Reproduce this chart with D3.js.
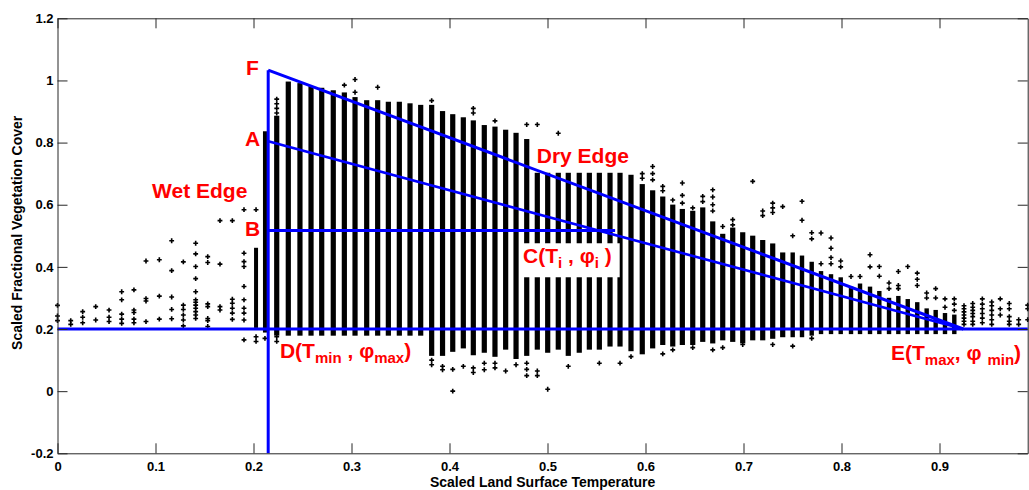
<!DOCTYPE html>
<html><head><meta charset="utf-8">
<script src="https://cdn.jsdelivr.net/npm/d3@7"></script>
<style>html,body{margin:0;padding:0;background:#fff;} svg{display:block;}</style>
</head><body>
<svg id="chart" width="1029" height="490"></svg>
<script>
// ---------------- data ----------------
const xTickValues = [0, 0.1, 0.2, 0.3, 0.4, 0.5, 0.6, 0.7, 0.8, 0.9];
const xTickLabels = ["0", "0.1", "0.2", "0.3", "0.4", "0.5", "0.6", "0.7", "0.8", "0.9"];
const yTickValues = [-0.2, 0, 0.2, 0.4, 0.6, 0.8, 1, 1.2];
const yTickLabels = ["-0.2", "0", "0.2", "0.4", "0.6", "0.8", "1", "1.2"];

// dense pixel columns (scaled LST value, upper / lower extent of the dense stack)
const colX = [0.2026, 0.2117, 0.2237, 0.2355, 0.2474, 0.2587, 0.2696, 0.2814, 0.2927, 0.3036,
  0.3155, 0.3267, 0.3376, 0.3488, 0.3597, 0.3706, 0.3818, 0.3929, 0.4033, 0.4141,
  0.4243, 0.4355, 0.4464, 0.4573, 0.4679, 0.4788, 0.4896, 0.5002, 0.5110, 0.5212,
  0.5324, 0.5427, 0.5529, 0.5638, 0.5740, 0.5852, 0.5967, 0.6073, 0.6176, 0.6278,
  0.6376, 0.6482, 0.6584, 0.6686, 0.6788, 0.6890, 0.6992, 0.7094, 0.7196, 0.7298,
  0.7400, 0.7502, 0.7597, 0.7696, 0.7791, 0.7893, 0.7992, 0.8097, 0.8189, 0.8291,
  0.8386, 0.8485, 0.8580, 0.8676, 0.8773, 0.8869, 0.8961, 0.9056, 0.9151];
const colHi = [0.455, 0.83, 0.88, 0.99, 0.985, 0.975, 0.97, 0.962, 0.955, 0.94,
  0.93, 0.93, 0.925, 0.925, 0.92, 0.915, 0.915, 0.895, 0.885, 0.875,
  0.865, 0.85, 0.845, 0.835, 0.825, 0.805, 0.79, 0.78, 0.77, 0.76,
  0.75, 0.74, 0.73, 0.72, 0.705, 0.69, 0.66, 0.64, 0.62, 0.594,
  0.58, 0.574, 0.585, 0.54, 0.50, 0.52, 0.505, 0.494, 0.48, 0.469,
  0.44, 0.44, 0.43, 0.41, 0.38, 0.37, 0.36, 0.33, 0.34, 0.33,
  0.316, 0.294, 0.30, 0.29, 0.28, 0.26, 0.255, 0.245, 0.24];
const colLo = [0.21, 0.195, 0.185, 0.185, 0.185, 0.185, 0.185, 0.185, 0.185, 0.185,
  0.185, 0.185, 0.185, 0.185, 0.185, 0.185, 0.12, 0.12, 0.133, 0.144,
  0.122, 0.13, 0.117, 0.14, 0.11, 0.12, 0.14, 0.13, 0.14, 0.12,
  0.13, 0.14, 0.14, 0.15, 0.15, 0.135, 0.125, 0.144, 0.155, 0.15,
  0.155, 0.155, 0.165, 0.16, 0.17, 0.165, 0.16, 0.17, 0.17, 0.175,
  0.18, 0.18, 0.18, 0.185, 0.19, 0.19, 0.19, 0.19, 0.19, 0.19,
  0.19, 0.19, 0.19, 0.19, 0.19, 0.19, 0.19, 0.19, 0.19];

// isolated pixels [scaled LST, scaled FVC]
const outliers = [
  [0, 0.276], [0, 0.242], [0, 0.227],
  [0.0135, 0.227], [0.0135, 0.215],
  [0.0257, 0.256], [0.0257, 0.238], [0.0257, 0.22],
  [0.039, 0.272], [0.039, 0.229],
  [0.0526, 0.261], [0.0526, 0.238], [0.0526, 0.224],
  [0.0655, 0.32], [0.0655, 0.294], [0.0655, 0.248], [0.0655, 0.232], [0.0655, 0.218],
  [0.078, 0.326], [0.078, 0.261], [0.078, 0.253], [0.078, 0.232], [0.078, 0.22],
  [0.0903, 0.419], [0.0903, 0.298], [0.0903, 0.29], [0.0903, 0.224],
  [0.1039, 0.423], [0.1039, 0.306], [0.1039, 0.232],
  [0.1165, 0.484], [0.1165, 0.388], [0.1165, 0.303], [0.1165, 0.263], [0.1165, 0.233],
  [0.1284, 0.416], [0.1284, 0.277], [0.1284, 0.263], [0.1284, 0.245], [0.1284, 0.229], [0.1284, 0.21],
  [0.141, 0.476], [0.141, 0.442], [0.141, 0.401], [0.141, 0.362], [0.141, 0.32], [0.141, 0.294],
  [0.141, 0.286], [0.141, 0.277], [0.141, 0.267], [0.141, 0.256], [0.141, 0.245], [0.141, 0.234],
  [0.1533, 0.433], [0.1533, 0.414], [0.1533, 0.281], [0.1533, 0.272], [0.1533, 0.234], [0.1533, 0.227], [0.1533, 0.208],
  [0.1658, 0.549], [0.1658, 0.409], [0.1658, 0.272], [0.1658, 0.261],
  [0.1784, 0.549], [0.1784, 0.296], [0.1784, 0.283], [0.1784, 0.267], [0.1784, 0.251], [0.1784, 0.231],
  [0.1903, 0.584], [0.1903, 0.444], [0.1903, 0.417], [0.1903, 0.401], [0.1903, 0.337], [0.1903, 0.294],
  [0.1903, 0.267], [0.1903, 0.251], [0.1903, 0.229], [0.1903, 0.165],
  [0.2026, 0.584], [0.2026, 0.175], [0.2026, 0.16],
  [0.2117, 0.17], [0.2237, 0.175], [0.2237, 0.16],
  [0.2237, 0.94], [0.2237, 0.925], [0.2237, 0.91], [0.2237, 0.895],
  [0.2927, 0.985], [0.3036, 1.003], [0.3036, 0.962], [0.3267, 0.978], [0.3818, 0.935],
  [0.4243, 0.91], [0.4243, 0.895], [0.4464, 0.87],
  [0.4788, 0.858], [0.4896, 0.858], [0.5110, 0.83],
  [0.5967, 0.70], [0.5967, 0.685],
  [0.6073, 0.723], [0.6073, 0.70], [0.6073, 0.68],
  [0.6176, 0.659], [0.6176, 0.645], [0.6278, 0.615],
  [0.6376, 0.67], [0.6376, 0.63], [0.6376, 0.605], [0.6482, 0.59],
  [0.6584, 0.627], [0.6584, 0.61],
  [0.6686, 0.648], [0.6686, 0.625], [0.6686, 0.60], [0.6686, 0.58],
  [0.6788, 0.53], [0.6890, 0.552], [0.6890, 0.535],
  [0.7094, 0.675], [0.7196, 0.58], [0.7196, 0.565],
  [0.7298, 0.605], [0.7298, 0.59], [0.7298, 0.575],
  [0.7400, 0.594], [0.7502, 0.50], [0.7597, 0.611], [0.7597, 0.55],
  [0.7696, 0.51], [0.7696, 0.49], [0.7791, 0.509], [0.7791, 0.41],
  [0.7893, 0.493], [0.7893, 0.46], [0.7893, 0.43], [0.7893, 0.41],
  [0.7992, 0.419], [0.7992, 0.40], [0.8097, 0.369], [0.8189, 0.369],
  [0.8291, 0.439], [0.8291, 0.40], [0.8386, 0.401], [0.8386, 0.37],
  [0.8485, 0.348], [0.8485, 0.33], [0.8580, 0.385], [0.8580, 0.34], [0.8580, 0.33],
  [0.8676, 0.401], [0.8773, 0.38], [0.8773, 0.36], [0.8773, 0.34],
  [0.8869, 0.316], [0.8869, 0.30], [0.8961, 0.33], [0.8961, 0.30],
  [0.9056, 0.297], [0.9056, 0.27], [0.9151, 0.297], [0.9151, 0.28], [0.9151, 0.26],
  [0.9250, 0.275], [0.9250, 0.265], [0.9250, 0.255], [0.9250, 0.245], [0.9250, 0.235], [0.9250, 0.225], [0.9250, 0.215],
  [0.9339, 0.282], [0.9339, 0.27], [0.9339, 0.26], [0.9339, 0.25], [0.9339, 0.24], [0.9339, 0.225], [0.9339, 0.215],
  [0.9437, 0.297], [0.9437, 0.28], [0.9437, 0.265], [0.9437, 0.25], [0.9437, 0.235], [0.9437, 0.22],
  [0.9533, 0.287], [0.9533, 0.275], [0.9533, 0.26], [0.9533, 0.245], [0.9533, 0.23], [0.9533, 0.215],
  [0.9620, 0.297], [0.9620, 0.265], [0.9620, 0.245],
  [0.9712, 0.282], [0.9712, 0.265], [0.9712, 0.24], [0.9712, 0.225], [0.9712, 0.215],
  [0.9808, 0.23], [0.9808, 0.215],
  [0.9900, 0.277], [0.9900, 0.265], [0.9900, 0.23],
  [0.3818, 0.10], [0.3818, 0.085], [0.3929, 0.08], [0.3929, 0.069],
  [0.4033, 0.07], [0.4033, 0.0], [0.4141, 0.08], [0.4243, 0.075], [0.4243, 0.06],
  [0.4355, 0.09], [0.4355, 0.069], [0.4464, 0.09], [0.4464, 0.075], [0.4573, 0.065],
  [0.4679, 0.085], [0.4788, 0.09], [0.4788, 0.07], [0.4788, 0.05], [0.4896, 0.065], [0.4896, 0.05],
  [0.5002, 0.006], [0.5212, 0.08], [0.5529, 0.09], [0.5740, 0.09], [0.5852, 0.111],
  [0.6176, 0.12], [0.6278, 0.133], [0.6482, 0.14], [0.6686, 0.133], [0.6788, 0.14],
  [0.6992, 0.15], [0.7298, 0.15], [0.7502, 0.145], [0.7696, 0.17]
];

// triangle key points
const pointF = [0.215, 1.033];
const pointA = [0.215, 0.804];
const pointB = [0.215, 0.517];
const pointBend = [0.569, 0.517];
const pointE = [0.9243, 0.2];
const axisBottomPoint = [0.215, -0.2];
const minLineStart = [0, 0.2];
const minLineEnd = [0.99, 0.2];

// annotation labels: position (data units, left / baseline) and text segments [text, isSubscript]
const labels = [
  {x: 0.1923, y: 1.019, box: false, parts: [["F", 0]]},
  {x: 0.1913, y: 0.788, box: false, parts: [["A", 0]]},
  {x: 0.1913, y: 0.498, box: false, parts: [["B", 0]]},
  {x: 0.0965, y: 0.6225, box: false, parts: [["Wet Edge", 0]]},
  {x: 0.489, y: 0.735, box: true, parts: [["Dry Edge", 0]]},
  {x: 0.475, y: 0.4116, box: true, parts: [["C(T", 0], ["i", 1], [" , φ", 0], ["i", 1], [" )", 0]]},
  {x: 0.227, y: 0.106, box: false, parts: [["D(T", 0], ["min", 1], [" , φ", 0], ["max", 1], [")", 0]]},
  {x: 0.8505, y: 0.1008, box: false, parts: [["E(T", 0], ["max", 1], [", φ ", 0], ["min", 1], [")", 0]]}
];
const xTitle = "Scaled Land Surface Temperature";
const yTitle = "Scaled Fractional Vegetation Cover";

// ---------------- drawing ----------------
const svg = d3.select("#chart");
const W = 1029, H = 490;
const x = d3.scaleLinear().domain([0, 0.99]).range([57.5, 1027.7]);
const y = d3.scaleLinear().domain([-0.2, 1.2]).range([453.3, 18.3]);
const FONT = "'Liberation Sans', Arial, Helvetica, sans-serif";

svg.append("rect").attr("width", W).attr("height", H).attr("fill", "#fff");

const gData = svg.append("g");
// dense stacks
gData.selectAll("rect.col").data(colX).join("rect")
  .attr("class", "col")
  .attr("x", (d) => x(d) - (d < 0.215 ? 2 : (d < 0.75 ? 2.6 : 2.2)))
  .attr("width", (d) => d < 0.215 ? 4 : (d < 0.75 ? 5.2 : 4.4))
  .attr("y", (d, i) => y(colHi[i]) - 2)
  .attr("height", (d, i) => y(colLo[i]) - y(colHi[i]) + 4)
  .attr("fill", "#000");

// isolated points as '+' markers
const plus = d3.symbol().type(d3.symbolCross).size(13);
gData.selectAll("path.pt").data(outliers).join("path")
  .attr("class", "pt")
  .attr("d", plus)
  .attr("transform", (d) => `translate(${x(d[0])},${y(d[1])})`)
  .attr("fill", "#000");

// labels (first create text, then white boxes behind selected ones)
const gBoxes = svg.append("g");
const gLines = svg.append("g");
const gLabels = svg.append("g");

labels.forEach((lb) => {
  const t = gLabels.append("text")
    .attr("x", x(lb.x)).attr("y", y(lb.y))
    .attr("fill", "#ff0000")
    .attr("font-family", FONT).attr("font-weight", "bold")
    .attr("font-size", 21);
  let prevSub = 0;
  lb.parts.forEach(([txt, sub]) => {
    const ts = t.append("tspan").text(txt).attr("font-size", sub ? 15 : 21);
    const dy = (sub ? 5 : 0) - (prevSub ? 5 : 0);
    if (dy !== 0) ts.attr("dy", dy);
    prevSub = sub;
  });
  if (lb.box) {
    const bb = t.node().getBBox();
    gBoxes.append("rect")
      .attr("x", bb.x - 3).attr("y", bb.y - 1)
      .attr("width", bb.width + 11).attr("height", bb.height + 7)
      .attr("fill", "#fff");
  }
});

// blue lines
const line = d3.line().x((d) => x(d[0])).y((d) => y(d[1]));
const segs = [
  {p: [minLineStart, minLineEnd], w: 3},
  {p: [axisBottomPoint, pointF], w: 3},
  {p: [pointF, pointE], w: 3},
  {p: [pointA, pointE], w: 2.6},
  {p: [pointB, pointBend], w: 3}
];
gLines.selectAll("path").data(segs).join("path")
  .attr("d", (d) => line(d.p))
  .attr("fill", "none").attr("stroke", "#0000ff")
  .attr("stroke-width", (d) => d.w);

// axes
const axisColor = "#262626";
function styleAxis(g, labelsOn) {
  g.selectAll("path.domain").attr("stroke", axisColor).attr("stroke-width", 1);
  g.selectAll(".tick line").attr("stroke", axisColor).attr("stroke-width", 1);
  g.selectAll(".tick text").attr("fill", "#000")
    .attr("font-family", FONT).attr("font-weight", "bold").attr("font-size", 13);
  if (!labelsOn) g.selectAll(".tick text").remove();
}
const gx = svg.append("g").attr("transform", `translate(0,${y(-0.2)})`)
  .call(d3.axisBottom(x).tickValues(xTickValues).tickFormat((d, i) => xTickLabels[i])
    .tickSizeInner(-10).tickSizeOuter(0).tickPadding(8));
styleAxis(gx, true);
const gxt = svg.append("g").attr("transform", `translate(0,${y(1.2)})`)
  .call(d3.axisTop(x).tickValues(xTickValues).tickSizeInner(-10).tickSizeOuter(0));
styleAxis(gxt, false);
const gy = svg.append("g").attr("transform", `translate(${x(0)},0)`)
  .call(d3.axisLeft(y).tickValues(yTickValues).tickFormat((d, i) => yTickLabels[i])
    .tickSizeInner(-10).tickSizeOuter(0).tickPadding(4));
styleAxis(gy, true);
const gyr = svg.append("g").attr("transform", `translate(${x(0.99)},0)`)
  .call(d3.axisRight(y).tickValues(yTickValues).tickSizeInner(-10).tickSizeOuter(0));
styleAxis(gyr, false);

// axis titles
svg.append("text").text(xTitle)
  .attr("x", (x(0) + x(0.99)) / 2).attr("y", 486.5)
  .attr("text-anchor", "middle")
  .attr("font-family", FONT).attr("font-weight", "bold").attr("font-size", 14).attr("fill", "#000");
svg.append("text").text(yTitle)
  .attr("transform", `translate(22,${(y(-0.2) + y(1.2)) / 2 - 3}) rotate(-90)`)
  .attr("text-anchor", "middle")
  .attr("font-family", FONT).attr("font-weight", "bold").attr("font-size", 14).attr("fill", "#000");
</script>
</body></html>
